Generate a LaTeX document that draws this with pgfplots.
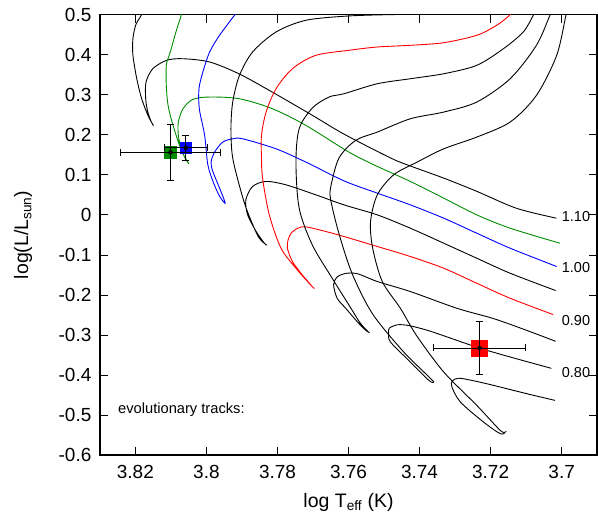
\documentclass[border=0pt]{standalone}
\usepackage{pgfplots}
\pgfplotsset{compat=1.18}
\usepackage{fontspec}
\setmainfont{Liberation Sans}
\usetikzlibrary{calc}
\definecolor{trkgreen}{RGB}{0,140,0}
\definecolor{trkblue}{RGB}{0,0,255}
\definecolor{trkred}{RGB}{255,0,0}

\pgfplotsset{
  hrframe/.style={scale only axis, width=498pt, height=441pt,
    x dir=reverse, xmin=3.69, xmax=3.83, ymin=-0.6, ymax=0.5},
}

\begin{document}
\begin{tikzpicture}
\begin{axis}[
  name=ax, hrframe,
  xtick={3.70,3.72,3.74,3.76,3.78,3.80,3.82},
  xticklabels={3.7,3.72,3.74,3.76,3.78,3.8,3.82},
  ytick={-0.6,-0.5,-0.4,-0.3,-0.2,-0.1,0,0.1,0.2,0.3,0.4,0.5},
  yticklabels={-0.6,-0.5,-0.4,-0.3,-0.2,-0.1,0,0.1,0.2,0.3,0.4,0.5},
  tick align=inside, major tick length=8pt,
  tick style={black, line width=0.8pt},
  axis line style={line width=1.6pt},
  ticklabel style={font=\fontsize{19}{22}\selectfont},
  xticklabel style={yshift=-7pt},
  yticklabel style={xshift=-5pt},
  label style={font=\fontsize{19.5}{22}\selectfont},
  xlabel={log T\textsubscript{eff} (K)},
  ylabel={log(L/L\textsubscript{sun})},
  xlabel style={at={(axis description cs:0.5,-0.1197)}, anchor=base},
  ylabel style={at={(axis description cs:-0.144,0.5)}, anchor=base},
  every axis plot/.append style={line width=0.9pt},
]

% 1.10 Msun
\addplot[black, smooth, tension=0.5] coordinates {
(3.7015,-0.0083) (3.7128,0.0167) (3.7240,0.0592) (3.7332,0.0918) (3.7425,0.1218)
(3.7481,0.1418) (3.7613,0.2018) (3.7703,0.2493) (3.7815,0.3068) (3.7907,0.3518)
(3.7991,0.3818) (3.8067,0.3900) (3.8112,0.3860) (3.8151,0.3650) (3.8170,0.3318)
(3.8171,0.2900) (3.8165,0.2568) (3.8155,0.2318) (3.8149,0.2230)
(3.8163,0.2450) (3.8182,0.2893) (3.8196,0.3393) (3.8207,0.3993) (3.8207,0.4393)
(3.8199,0.4743) (3.8183,0.4993) (3.8175,0.5200)};

% 1.05 Msun
\addplot[trkgreen, smooth, tension=0.5] coordinates {
(3.7005,-0.0708) (3.7145,-0.0333) (3.7239,0.0000) (3.7332,0.0418) (3.7426,0.0835)
(3.7519,0.1210) (3.7599,0.1568) (3.7720,0.2235) (3.7814,0.2650) (3.7907,0.2900)
(3.7991,0.2943) (3.8038,0.2885) (3.8066,0.2650) (3.8079,0.2318) (3.8079,0.1985)
(3.8071,0.1650) (3.8059,0.1400) (3.8050,0.1285)
(3.8070,0.1600) (3.8094,0.2235) (3.8108,0.2735) (3.8113,0.3235) (3.8113,0.3735)
(3.8108,0.3900) (3.8099,0.4150) (3.8090,0.4443) (3.8080,0.4735) (3.8071,0.4985)
(3.8065,0.5200)};

% 1.00 Msun
\addplot[trkblue, smooth, tension=0.5] coordinates {
(3.7014,-0.1290) (3.7145,-0.0833) (3.7239,-0.0458) (3.7332,-0.0083) (3.7426,0.0250)
(3.7519,0.0543) (3.7613,0.0850) (3.7720,0.1318) (3.7804,0.1650) (3.7898,0.1900)
(3.7926,0.1900) (3.7954,0.1818) (3.7977,0.1568) (3.7987,0.1318) (3.7982,0.1085)
(3.7963,0.0668) (3.7947,0.0293)
(3.7962,0.0450) (3.7980,0.0800) (3.7996,0.1250) (3.8005,0.1985) (3.8020,0.2650)
(3.8021,0.3150) (3.8010,0.3568) (3.7991,0.4068) (3.7963,0.4485) (3.7921,0.4985)
(3.7900,0.5200)};

% 0.95 Msun
\addplot[black, smooth, tension=0.5] coordinates {
(3.7017,-0.1890) (3.7145,-0.1458) (3.7239,-0.1083) (3.7332,-0.0708) (3.7426,-0.0333)
(3.7519,0.0000) (3.7613,0.0250) (3.7692,0.0500) (3.7776,0.0750) (3.7832,0.0835)
(3.7870,0.0710) (3.7889,0.0375) (3.7884,0.0000) (3.7860,-0.0415) (3.7837,-0.0708)
(3.7831,-0.0750)
(3.7853,-0.0560) (3.7881,0.0000) (3.7900,0.0500) (3.7926,0.1418) (3.7931,0.2150)
(3.7926,0.2818) (3.7907,0.3485) (3.7870,0.4068) (3.7804,0.4568) (3.7720,0.4860)
(3.7599,0.4968) (3.7459,0.5005) (3.7300,0.5020)};

% 0.90 Msun
\addplot[trkred, smooth, tension=0.5] coordinates {
(3.7024,-0.2490) (3.7145,-0.2083) (3.7239,-0.1708) (3.7332,-0.1333) (3.7426,-0.1040)
(3.7519,-0.0790) (3.7613,-0.0540) (3.7664,-0.0415) (3.7720,-0.0300) (3.7742,-0.0330)
(3.7760,-0.0440) (3.7770,-0.0620) (3.7772,-0.0833) (3.7758,-0.1165) (3.7730,-0.1500)
(3.7702,-0.1790) (3.7697,-0.1833)
(3.7711,-0.1708) (3.7748,-0.1333) (3.7790,-0.0833) (3.7823,0.0000) (3.7842,0.0918)
(3.7845,0.1418) (3.7845,0.1985) (3.7832,0.2568) (3.7804,0.3150) (3.7758,0.3650)
(3.7692,0.3985) (3.7599,0.4110) (3.7519,0.4193) (3.7426,0.4235) (3.7332,0.4300)
(3.7239,0.4485) (3.7183,0.4735) (3.7147,0.4985) (3.7130,0.5200)};

% 0.85 Msun
\addplot[black, smooth, tension=0.5] coordinates {
(3.7017,-0.3158) (3.7099,-0.2883) (3.7192,-0.2590) (3.7295,-0.2333) (3.7426,-0.1915)
(3.7519,-0.1665) (3.7575,-0.1470) (3.7610,-0.1465) (3.7633,-0.1560) (3.7642,-0.1750)
(3.7632,-0.2083) (3.7608,-0.2333) (3.7579,-0.2633) (3.7557,-0.2840) (3.7543,-0.2933)
(3.7566,-0.2715) (3.7599,-0.2250) (3.7646,-0.1583) (3.7702,-0.0750) (3.7739,0.0168)
(3.7748,0.1318) (3.7739,0.2150) (3.7702,0.2668) (3.7655,0.2943) (3.7613,0.3025)
(3.7519,0.3275) (3.7426,0.3400) (3.7332,0.3525) (3.7239,0.3735) (3.7164,0.4150)
(3.7108,0.4568) (3.7080,0.4985) (3.7070,0.5200)};

% 0.80 Msun
\addplot[black, smooth, tension=0.5] coordinates {
(3.7029,-0.3833) (3.7145,-0.3550) (3.7232,-0.3325) (3.7332,-0.3020) (3.7379,-0.2880)
(3.7430,-0.2765) (3.7462,-0.2745) (3.7485,-0.2830) (3.7487,-0.2950) (3.7482,-0.3175)
(3.7426,-0.3675) (3.7374,-0.4133) (3.7360,-0.4175)
(3.7385,-0.3950) (3.7449,-0.3383) (3.7533,-0.2465) (3.7590,-0.1465) (3.7627,-0.0465)
(3.7650,0.0368) (3.7650,0.0700) (3.7627,0.1418) (3.7580,0.1860) (3.7519,0.2068)
(3.7426,0.2400) (3.7332,0.2568) (3.7239,0.2818) (3.7145,0.3400) (3.7071,0.4235)
(3.7033,0.4985) (3.7020,0.5200)};

% 0.75 Msun
\addplot[black, smooth, tension=0.5] coordinates {
(3.7019,-0.4633) (3.7099,-0.4465) (3.7192,-0.4258) (3.7250,-0.4140) (3.7290,-0.4080)
(3.7308,-0.4150) (3.7309,-0.4300) (3.7285,-0.4675) (3.7220,-0.5175) (3.7173,-0.5465)
(3.7159,-0.5425)
(3.7173,-0.5383) (3.7239,-0.4758) (3.7332,-0.3925) (3.7409,-0.3008) (3.7454,-0.2333)
(3.7505,-0.1665) (3.7532,-0.0833) (3.7538,-0.0165) (3.7519,0.0500) (3.7473,0.1000)
(3.7407,0.1318) (3.7332,0.1650) (3.7239,0.1943) (3.7145,0.2318) (3.7071,0.2985)
(3.7014,0.3985) (3.6988,0.4985) (3.6980,0.5200)};

% observed stars
\addplot[only marks, mark=square*, mark size=5.8pt, color=trkgreen] coordinates {(3.8101,0.156)};
\addplot[only marks, mark=square*, mark size=5.5pt, color=trkblue] coordinates {(3.8058,0.1675)};
\addplot[only marks, mark=square*, mark size=8pt, color=trkred] coordinates {(3.7231,-0.3325)};

% track labels
\node[anchor=west, inner sep=0pt, font=\fontsize{14.5}{16}\selectfont] at (axis cs:3.7000,-0.005) {1.10};
\node[anchor=west, inner sep=0pt, font=\fontsize{14.5}{16}\selectfont] at (axis cs:3.7000,-0.1315) {1.00};
\node[anchor=west, inner sep=0pt, font=\fontsize{14.5}{16}\selectfont] at (axis cs:3.7000,-0.263) {0.90};
\node[anchor=west, inner sep=0pt, font=\fontsize{14.5}{16}\selectfont] at (axis cs:3.7000,-0.393) {0.80};
\node[anchor=west, inner sep=0pt, font=\fontsize{14.7}{16}\selectfont] at (axis cs:3.8249,-0.4858) {evolutionary tracks:};
\end{axis}

% error bars of the observed stars, on a matching frame drawn on top
\begin{axis}[hrframe, at={(ax.south west)}, anchor=south west, hide axis]
\addplot[only marks, mark=none,
  error bars/.cd, x dir=both, x explicit, y dir=both, y explicit,
  error bar style={black, line width=0.8pt},
  error mark options={black, rotate=90, mark size=3.5pt, line width=0.8pt}]
  coordinates {
  (3.8101,0.156) +- (0.0140,0.070)
  (3.8058,0.1675) +- (0.0060,0.032)
  (3.7231,-0.3325) +- (0.0130,0.067)
};
\end{axis}
\pgfresetboundingbox
\path[use as bounding box] ($(ax.south west)+(-100pt,-63.5pt)$) rectangle ($(ax.north east)+(0.8pt,14.7pt)$);
\end{tikzpicture}
\end{document}
